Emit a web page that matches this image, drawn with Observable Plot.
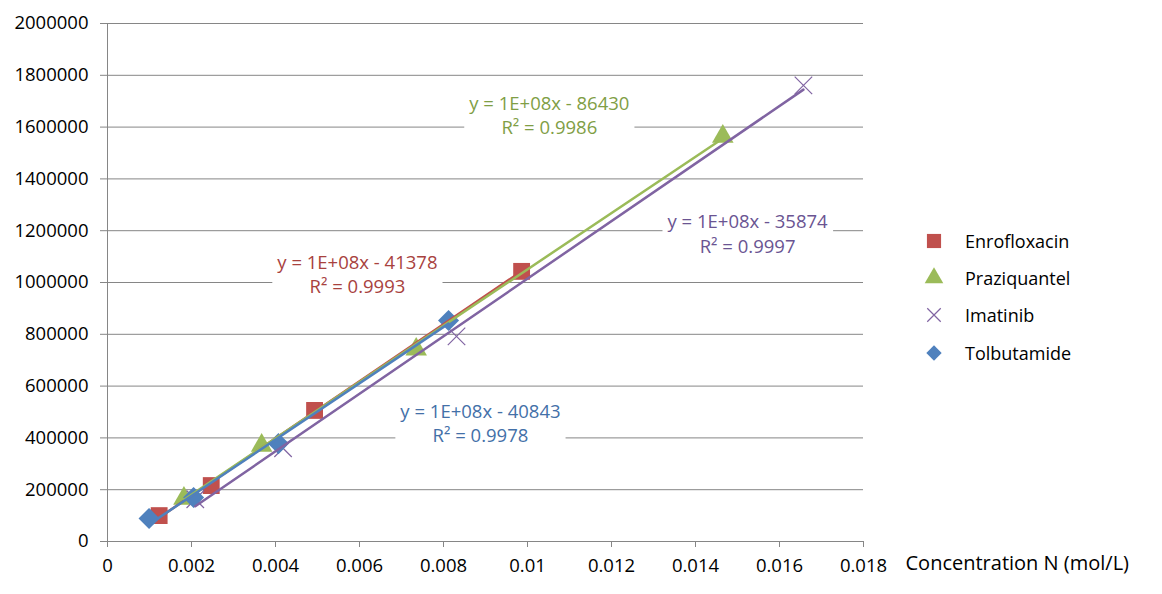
<!DOCTYPE html>
<html><head><meta charset="utf-8">
<script src="https://cdn.jsdelivr.net/npm/d3@7"></script>
<script src="https://cdn.jsdelivr.net/npm/@observablehq/plot@0.6"></script>
<style>
body{margin:0;background:#fff;font-family:"Open Sans",sans-serif;}
#wrap{position:relative;width:1162px;height:594px;overflow:hidden;}
#legend{position:absolute;left:922px;top:222px;font-size:18px;color:#000;font-family:"Open Sans",sans-serif;}
.item{display:flex;align-items:center;height:37.3px;}
.item svg{width:24px;height:24px;margin-right:19px;}
</style></head><body><div id="wrap"><div id="chart"></div><div id="legend"></div></div>
<script>
// ---- data ----
const seriesNames = ["Enrofloxacin", "Praziquantel", "Imatinib", "Tolbutamide"];
const enroX = [0.00123, 0.00247, 0.00493, 0.00986];
const enroY = [100000, 216000, 506000, 1043000];
const prazX = [0.00182, 0.00367, 0.00735, 0.01465];
const prazY = [166000, 371000, 742000, 1564000];
const imatX = [0.00209, 0.00418, 0.00831, 0.01657];
const imatY = [163000, 360000, 792000, 1761000];
const tolbX = [0.00099, 0.00205, 0.00407, 0.00812];
const tolbY = [89000, 170000, 378000, 853000];
const xTicks = [0, 0.002, 0.004, 0.006, 0.008, 0.01, 0.012, 0.014, 0.016, 0.018];
const yTicks = [0, 200000, 400000, 600000, 800000, 1000000, 1200000, 1400000, 1600000, 1800000, 2000000];
const eqLines = ["y = 1E+08x - 41378", "y = 1E+08x - 86430", "y = 1E+08x - 35874", "y = 1E+08x - 40843"];
const r2Lines = ["R² = 0.9993", "R² = 0.9986", "R² = 0.9997", "R² = 0.9978"];
const labelX = [0.00595, 0.01052, 0.01524, 0.00888];
const labelY = [1036000, 1648000, 1192000, 459000];
const xTitle = "Concentration N (mol/L)";

const colors = ["#C0504D", "#9BBB59", "#8064A2", "#4F81BD"];
const textColors = ["#A8423E", "#7F9E45", "#6A5492", "#4370A8"];
const symbols = ["square", "triangle", "times", "diamond2"];

const sets = [[enroX, enroY], [prazX, prazY], [imatX, imatY], [tolbX, tolbY]].map(([xs, ys], i) =>
  xs.map((x, j) => ({x, y: ys[j], s: seriesNames[i]})));
const labels = seriesNames.map((s, i) => ({x: labelX[i], y: labelY[i], t: eqLines[i] + "\n" + r2Lines[i], c: textColors[i]}));

const grid = "#868686";
const font = "Open Sans, sans-serif";

const dotMarks = sets.map((d, i) => symbols[i] === "times"
  ? Plot.dot(d, {x: "x", y: "y", symbol: "times", r: 8, stroke: colors[i], strokeWidth: 1.2})
  : Plot.dot(d, {x: "x", y: "y", symbol: symbols[i], r: symbols[i] === "triangle" ? 8 : 9.5, fill: colors[i], stroke: "none"}));
const lineOrder = [0, 1, 2, 3];
const regMarks = lineOrder.map(i => Plot.linearRegressionY(sets[i], {x: "x", y: "y", stroke: colors[i], strokeWidth: 2.5, ci: 0}));

const chart = Plot.plot({
  width: 1162, height: 594,
  marginLeft: 107, marginRight: 299, marginTop: 23, marginBottom: 53,
  style: {fontFamily: font, fontSize: "18.5px", color: "#000", background: "#fff"},
  x: {domain: [0, 0.018], ticks: xTicks, tickFormat: d => String(+d.toFixed(3)), label: null},
  y: {domain: [0, 2000000], ticks: yTicks, tickFormat: d3.format("d"), label: null},
  marks: [
    Plot.gridY(yTicks, {stroke: grid, strokeOpacity: 1, strokeWidth: 1}),
    Plot.axisY(yTicks, {tickSize: 7, tickPadding: 12, stroke: grid, tickFormat: d3.format("d"), fontSize: 18.5, fill: "#000", label: null}),
    Plot.axisX(xTicks, {tickSize: 6, tickPadding: 11, stroke: grid, tickFormat: d => String(+d.toFixed(3)), fontSize: 18.5, fill: "#000", label: null}),
    Plot.ruleX([0], {stroke: grid}),
    Plot.ruleY([0], {stroke: grid}),
    Plot.text(labels, {x: "x", y: "y", text: "t", fill: "c", fontSize: 18.5, lineHeight: 1.3, textAnchor: "middle", className: "eqlabel"}),
    ...dotMarks,
    ...regMarks,
    Plot.text([xTitle], {frameAnchor: "bottom-right", text: d => d, dx: 42, dy: 28, textAnchor: "start", fontSize: 20, fill: "#000"})
  ]
});
document.getElementById("chart").appendChild(chart);

// white boxes behind the trendline equations (as Excel does)
d3.select(chart).selectAll("g.eqlabel text, .eqlabel text").each(function () {
  const b = this.getBBox();
  const r = document.createElementNS("http://www.w3.org/2000/svg", "rect");
  r.setAttribute("x", b.x - 5); r.setAttribute("y", b.y - 1);
  r.setAttribute("width", b.width + 10); r.setAttribute("height", b.height + 2);
  r.setAttribute("fill", "#fff");
  const tr = this.getAttribute("transform"); if (tr) r.setAttribute("transform", tr);
  this.parentNode.insertBefore(r, this);
});

// legend
const leg = d3.select("#legend");
seriesNames.forEach((s, i) => {
  const it = leg.append("div").attr("class", "item");
  const sv = it.append("svg").attr("viewBox", "-12 -12 24 24");
  if (symbols[i] === "times") {
    sv.append("path").attr("d", d3.symbol(d3.symbolTimes, 120)()).attr("stroke", colors[i]).attr("fill", "none").attr("stroke-width", 1.2);
  } else {
    const sym = {square: d3.symbolSquare, triangle: d3.symbolTriangle, diamond2: d3.symbolDiamond2}[symbols[i]];
    sv.append("path").attr("d", d3.symbol(sym, symbols[i] === "square" ? 200 : 150)()).attr("fill", colors[i]);
  }
  it.append("span").text(s);
});
</script></body></html>
